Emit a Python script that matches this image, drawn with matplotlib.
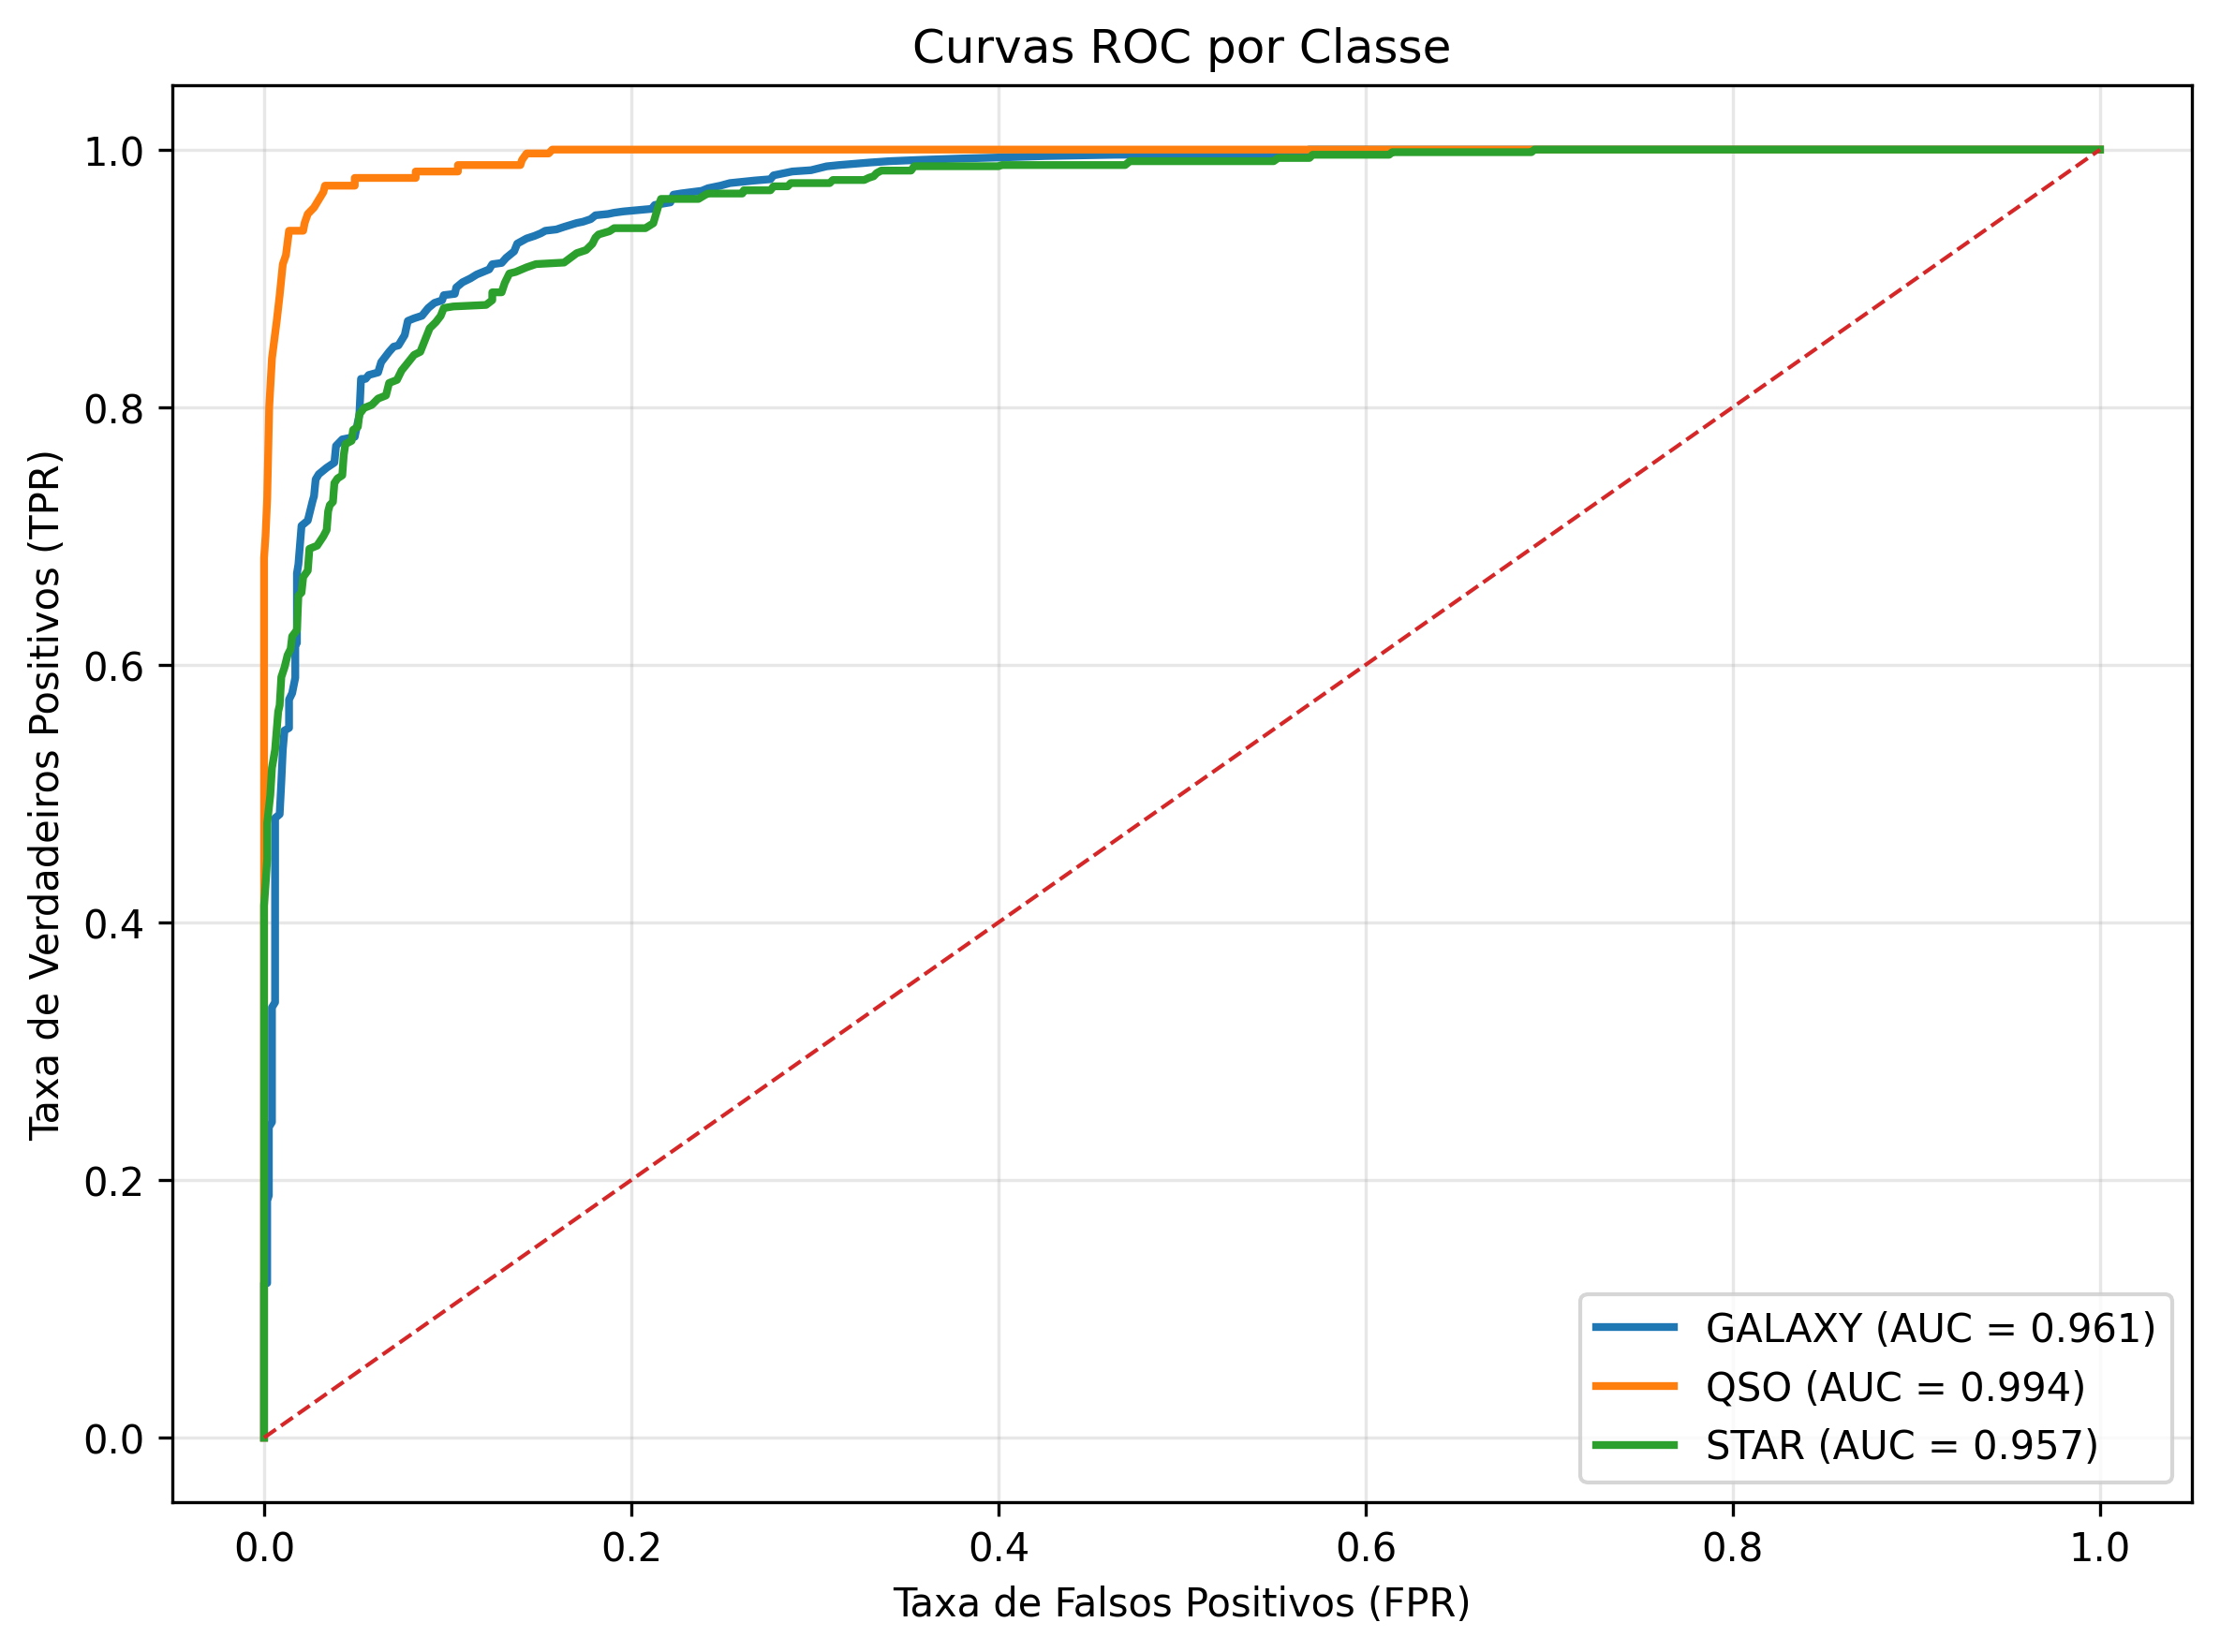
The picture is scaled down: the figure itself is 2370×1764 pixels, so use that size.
import matplotlib
matplotlib.use("Agg")
import matplotlib.pyplot as plt

classes = ["GALAXY", "QSO", "STAR"]
auc_values = [0.961, 0.994, 0.957]
colors = ["#1f77b4", "#ff7f0e", "#2ca02c"]

fpr_galaxy = [0, 0, 0.0017, 0.0017, 0.0026, 0.0026, 0.0043, 0.0043, 0.006, 0.006, 0.0085, 0.0094,
              0.0102, 0.0111, 0.0136, 0.0136, 0.0153, 0.017, 0.017, 0.0179, 0.0179, 0.0187, 0.0204,
              0.0238, 0.0264, 0.0272, 0.0281, 0.0298, 0.0341, 0.0383, 0.0392, 0.0426, 0.0494, 0.0519,
              0.0528, 0.0553, 0.057, 0.0621, 0.0638, 0.0681, 0.0706, 0.0732, 0.0766, 0.0783, 0.0817,
              0.086, 0.0894, 0.0928, 0.097, 0.0979, 0.1039, 0.1047, 0.1081, 0.1124, 0.1158, 0.1192,
              0.1226, 0.1243, 0.1294, 0.1319, 0.1362, 0.1379, 0.143, 0.1473, 0.1507, 0.1532, 0.1592,
              0.1634, 0.1703, 0.1737, 0.1779, 0.1805, 0.1873, 0.1907, 0.1958, 0.2111, 0.2128, 0.2213,
              0.223, 0.2273, 0.2384, 0.2418, 0.2486, 0.2537, 0.2673, 0.2758, 0.2775, 0.2843, 0.2877,
              0.2979, 0.3064, 0.3132, 0.3303, 0.3405, 0.3575, 0.3779, 0.4035, 0.4256, 0.4631, 0.568,
              0.569, 1.0]
tpr_galaxy = [0, 0.12, 0.12, 0.184, 0.188, 0.241, 0.245, 0.334, 0.338, 0.481, 0.484, 0.509,
              0.534, 0.549, 0.551, 0.573, 0.578, 0.590, 0.615, 0.617, 0.671, 0.678, 0.708,
              0.712, 0.727, 0.731, 0.744, 0.748, 0.753, 0.757, 0.770, 0.775, 0.777, 0.794,
              0.822, 0.822, 0.825, 0.827, 0.835, 0.843, 0.847, 0.848, 0.856, 0.867, 0.869,
              0.871, 0.877, 0.881, 0.883, 0.887, 0.888, 0.893, 0.897, 0.900, 0.903, 0.905,
              0.907, 0.911, 0.912, 0.916, 0.921, 0.927, 0.931, 0.933, 0.935, 0.937, 0.938,
              0.940, 0.943, 0.944, 0.946, 0.949, 0.950, 0.951, 0.952, 0.954, 0.957, 0.959,
              0.965, 0.966, 0.968, 0.970, 0.972, 0.974, 0.976, 0.977, 0.980, 0.982, 0.983,
              0.984, 0.987, 0.988, 0.990, 0.991, 0.992, 0.993, 0.994, 0.995, 0.996, 0.997,
              1.0, 1.0]

fpr_qso = [0.0, 0.0, 0.0008, 0.0017, 0.0028, 0.0043, 0.0069, 0.0085, 0.0102, 0.0119, 0.0136,
           0.0213, 0.0221, 0.0238, 0.0272, 0.0323, 0.0332, 0.0494, 0.0494, 0.0826, 0.0826,
           0.1056, 0.1056, 0.1396, 0.1405, 0.143, 0.155, 0.157, 1.0]
tpr_qso = [0.0, 0.683, 0.70, 0.729, 0.80, 0.838, 0.867, 0.887, 0.911, 0.918, 0.937,
           0.937, 0.943, 0.950, 0.955, 0.967, 0.972, 0.972, 0.978, 0.978, 0.983,
           0.983, 0.988, 0.988, 0.992, 0.997, 0.997, 1.0, 1.0]

fpr_star = [0, 0, 0.0009, 0.0017, 0.0017, 0.0034, 0.0043, 0.006, 0.0077, 0.0085, 0.0094, 0.0111,
            0.0128, 0.0145, 0.0153, 0.0179, 0.0187, 0.0204, 0.0213, 0.0238, 0.0247, 0.0289,
            0.0323, 0.0341, 0.0349, 0.0358, 0.0375, 0.0383, 0.04, 0.0426, 0.0434, 0.0443, 0.0477,
            0.0485, 0.0511, 0.0519, 0.0545, 0.0587, 0.0621, 0.0664, 0.0681, 0.0724, 0.0749,
            0.0783, 0.0817, 0.0851, 0.0885, 0.0902, 0.0936, 0.0962, 0.0979, 0.103, 0.1209,
            0.1243, 0.1243, 0.1294, 0.1311, 0.1336, 0.137, 0.143, 0.1481, 0.1634, 0.1668,
            0.1703, 0.1754, 0.1788, 0.1805, 0.1822, 0.1881, 0.1907, 0.2077, 0.212, 0.2145,
            0.2162, 0.2366, 0.2401, 0.2418, 0.2605, 0.2613, 0.2758, 0.2775, 0.2852, 0.2869,
            0.3081, 0.3098, 0.3269, 0.3294, 0.332, 0.3337, 0.3362, 0.3524, 0.3541, 0.4001,
            0.4018, 0.469, 0.4716, 0.5499, 0.5524, 0.5694, 0.5711, 0.6128, 0.6145, 0.6903,
            0.692, 1.0]
tpr_star = [0, 0.413, 0.431, 0.449, 0.477, 0.499, 0.520, 0.534, 0.5637, 0.5686, 0.5905, 0.5978,
            0.6075, 0.6124, 0.6221, 0.627, 0.6537, 0.6561, 0.6682, 0.6731, 0.6901, 0.6925,
            0.6998, 0.7047, 0.7192, 0.724, 0.7265, 0.7411, 0.7447, 0.7471, 0.7629, 0.7714, 0.7739,
            0.7824, 0.7848, 0.7945, 0.7994, 0.8018, 0.8067, 0.8091, 0.8188, 0.8212, 0.8285,
            0.8345, 0.8406, 0.843, 0.8552, 0.8613, 0.8661, 0.8709, 0.877, 0.8782, 0.8794,
            0.8831, 0.8892, 0.8892, 0.8965, 0.9038, 0.905, 0.9086, 0.9111, 0.9123, 0.9159,
            0.9196, 0.922, 0.9268, 0.9317, 0.9341, 0.9366, 0.939, 0.939, 0.9428, 0.9549,
            0.9617, 0.9617, 0.9647, 0.9659, 0.9659, 0.9684, 0.9684, 0.9715, 0.9715, 0.974,
            0.974, 0.9764, 0.9764, 0.9781, 0.9793, 0.9818, 0.9837, 0.9837, 0.9871, 0.9871,
            0.988, 0.988, 0.991, 0.991, 0.9935, 0.9935, 0.996, 0.996, 0.998, 0.998,
            1.0, 1.0]

fprs = [fpr_galaxy, fpr_qso, fpr_star]
tprs = [tpr_galaxy, tpr_qso, tpr_star]

fig = plt.figure(figsize=(7.9, 5.8833), dpi=300)
ax = fig.add_axes([0.0776, 0.0907, 0.9097, 0.8572])

for name, auc, c, f, t in zip(classes, auc_values, colors, fprs, tprs):
    ax.plot(f, t, color=c, lw=2, label=f"{name} (AUC = {auc:.3f})")

ax.plot([0, 1], [0, 1], color="#d62728", linestyle="--", lw=1)

ax.set_xlabel("Taxa de Falsos Positivos (FPR)")
ax.set_ylabel("Taxa de Verdadeiros Positivos (TPR)")
ax.set_title("Curvas ROC por Classe")
ax.legend(loc="lower right")
ax.grid(True, alpha=0.3)

fig.savefig("out.png", dpi=300)
